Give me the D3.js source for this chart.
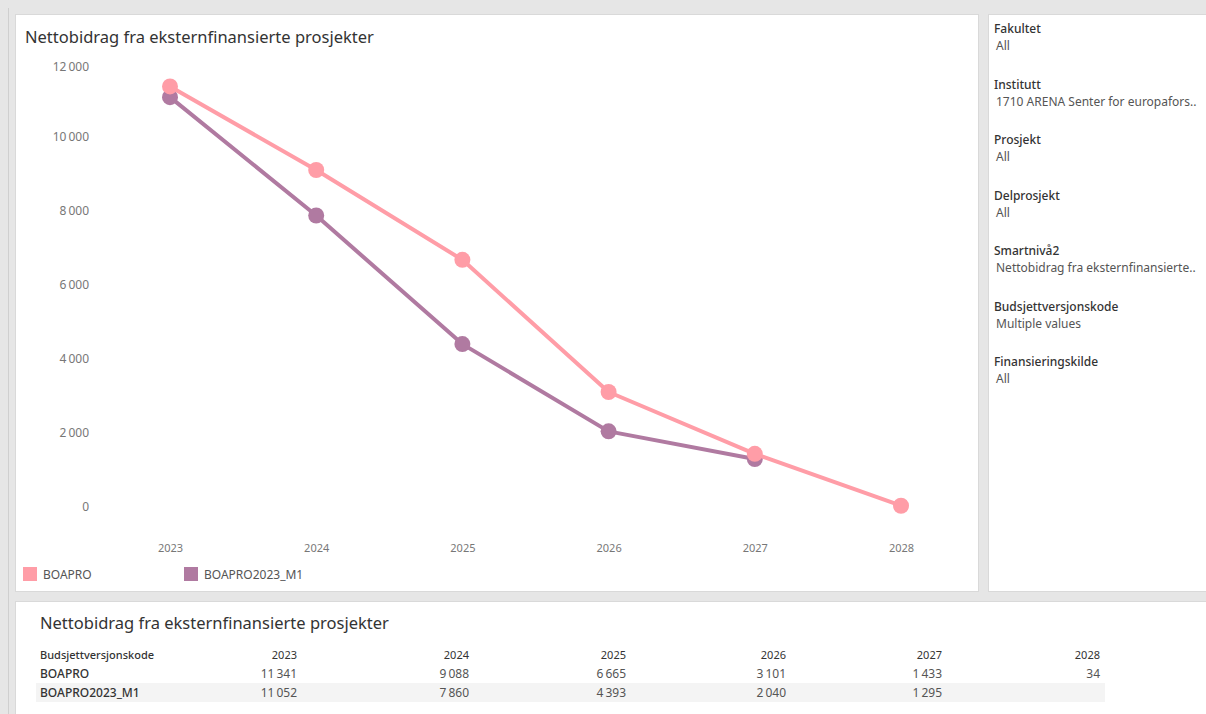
<!DOCTYPE html>
<html><head><meta charset="utf-8">
<script src="https://cdn.jsdelivr.net/npm/d3@7"></script>
<style>
html,body{margin:0;padding:0;background:#e6e6e6;overflow:hidden;}
svg{display:block;font-family:"Noto Sans",sans-serif;}
</style></head><body>
<svg id="c" width="1206" height="714"></svg>
<script>
const years = [2023, 2024, 2025, 2026, 2027, 2028];
const seriesNames = ["BOAPRO", "BOAPRO2023_M1"];
const boapro = [11341, 9088, 6665, 3101, 1433, 34];
const boaproM1 = [11052, 7860, 4393, 2040, 1295, null];
const yTicks = [0, 2000, 4000, 6000, 8000, 10000, 12000];
const colors = ["#ff9da7", "#b07aa1"];
const filters = [
  ["Fakultet", "All"],
  ["Institutt", "1710 ARENA Senter for europafors.."],
  ["Prosjekt", "All"],
  ["Delprosjekt", "All"],
  ["Smartnivå2", "Nettobidrag fra eksternfinansierte.."],
  ["Budsjettversjonskode", "Multiple values"],
  ["Finansieringskilde", "All"]
];
const title = "Nettobidrag fra eksternfinansierte prosjekter";

const fmt = v => v == null ? "" : d3.format(",")(v).replace(/,/g, "\u2009");
const svg = d3.select("#c");

// panels
svg.append("rect").attr("x",0).attr("y",0).attr("width",1206).attr("height",714).attr("fill","#e6e6e6");
svg.append("line").attr("x1",8.5).attr("x2",8.5).attr("y1",8).attr("y2",714).attr("stroke","#cfcfcf");
const panel = (x,y,w,h)=>svg.append("rect").attr("x",x+0.5).attr("y",y+0.5).attr("width",w).attr("height",h)
  .attr("fill","#fff").attr("stroke","#d9d9d9");
panel(15,14,963,577);
panel(988,14,230,577);
panel(15,601,1200,120);

// chart
svg.append("text").attr("x",25).attr("y",43).attr("font-size",16.5).attr("fill","#333").text(title);

const x = d3.scalePoint().domain(years).range([170, 901]);
const y = d3.scaleLinear().domain([0, 12000]).range([507, 62]);

const yAxis = svg.append("g").attr("transform","translate(89,0)")
  .call(d3.axisLeft(y).tickValues(yTicks).tickSize(0).tickPadding(0).tickFormat(fmt));
yAxis.select(".domain").remove();
yAxis.selectAll("text").attr("font-size",12).attr("fill","#777").attr("font-family","Noto Sans, sans-serif")
  .attr("dy", d => d === 12000 ? "0.67em" : "0.32em");

const xAxis = svg.append("g").attr("transform","translate(0,548)")
  .call(d3.axisBottom(x).tickSize(0).tickPadding(0).tickFormat(d3.format("d")));
xAxis.select(".domain").remove();
xAxis.selectAll("text").attr("font-size",11).attr("fill","#777").attr("font-family","Noto Sans, sans-serif").attr("dy","0.32em");

const data = [boapro, boaproM1];
const line = d3.line().defined(d => d.v != null).x(d => x(d.year)).y(d => y(d.v));
// draw M1 first, BOAPRO on top
[1,0].forEach(i => {
  const pts = years.map((yr,j)=>({year:yr, v:data[i][j]}));
  svg.append("path").datum(pts).attr("d",line).attr("fill","none")
    .attr("stroke",colors[i]).attr("stroke-width",4).attr("stroke-linejoin","round");
  svg.append("g").selectAll("circle").data(pts.filter(d=>d.v!=null)).join("circle")
    .attr("cx",d=>x(d.year)).attr("cy",d=>y(d.v)).attr("r",8).attr("fill",colors[i]);
});

// legend
const lx = [23, 184];
seriesNames.forEach((s,i)=>{
  svg.append("rect").attr("x",lx[i]).attr("y",567).attr("width",14).attr("height",14).attr("fill",colors[i]);
  svg.append("text").attr("x",lx[i]+20).attr("y",579).attr("font-size",12).attr("fill","#555").text(s);
});

// filters
filters.forEach((f,i)=>{
  const yy = 33 + i*55.5;
  svg.append("text").attr("x",994).attr("y",yy).attr("font-size",12).attr("font-weight",500).attr("fill","#333").text(f[0]);
  svg.append("text").attr("x",996).attr("y",yy+17).attr("font-size",12).attr("fill","#555").text(f[1]);
});

// table
svg.append("text").attr("x",40).attr("y",629).attr("font-size",16.5).attr("fill","#333").text(title);
svg.append("rect").attr("x",36).attr("y",683).attr("width",1069).attr("height",19).attr("fill","#f4f4f4");
const colRight = d3.scaleOrdinal().domain(years).range([297, 469, 626, 786, 942, 1100]);
svg.append("text").attr("x",40).attr("y",659).attr("font-size",11).attr("font-weight",500).attr("fill","#333").text("Budsjettversjonskode");
years.forEach(yr=>{
  svg.append("text").attr("x",colRight(yr)).attr("y",659).attr("text-anchor","end").attr("font-size",11).attr("fill","#333").text(yr);
});
data.forEach((row,i)=>{
  const yy = 678 + i*19;
  svg.append("text").attr("x",40).attr("y",yy).attr("font-size",12).attr("font-weight",500).attr("fill","#333").text(seriesNames[i]);
  row.forEach((v,j)=>{
    svg.append("text").attr("x",colRight(years[j])).attr("y",yy).attr("text-anchor","end").attr("font-size",12).attr("fill","#555").text(fmt(v));
  });
});
</script></body></html>
